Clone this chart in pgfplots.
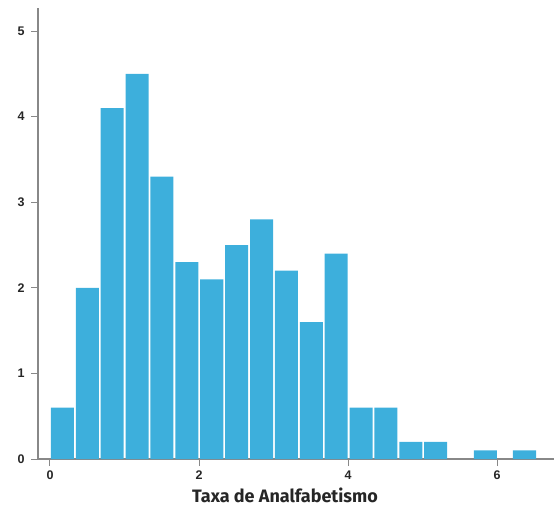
\documentclass[border=0pt]{standalone}
\usepackage{pgfplots}
\pgfplotsset{compat=1.18}
\usepackage{fontspec}
\setmainfont{Liberation Sans}
\newfontfamily\labelfont{Fira Sans}
\definecolor{barblue}{HTML}{3DAFDC}
\definecolor{spine}{HTML}{888888}
\begin{document}
\begin{tikzpicture}
\begin{axis}[
  scale only axis,
  width=516pt, height=451pt,
  xmin=-0.161, xmax=6.765,
  ymin=0, ymax=5.27,
  axis x line*=bottom, axis y line*=left,
  axis line style={spine, line width=1.3pt},
  xtick={0,2,4,6}, ytick={0,1,2,3,4,5},
  tick align=outside,
  major tick length=7pt,
  tick style={spine, line width=1pt},
  ticklabel style={font=\fontsize{12.5}{14}\selectfont\bfseries, text=black!85},
  /pgf/number format/assume math mode=true,
  xticklabel style={yshift=-1pt},
  yticklabel style={xshift=-3pt},
  xlabel={\labelfont\bfseries\fontsize{18}{20}\selectfont Taxa de Analfabetismo},
  xlabel style={yshift=-1.5pt, xshift=-11pt, text=black!85},
]
\addplot[ybar, bar width=0.309, bar shift=0pt, fill=barblue, draw=none] coordinates {
(0.1670,0.6) (0.5010,2.0) (0.8350,4.1) (1.1690,4.5) (1.5030,3.3)
(1.8370,2.3) (2.1710,2.1) (2.5050,2.5) (2.8390,2.8) (3.1730,2.2)
(3.5070,1.6) (3.8410,2.4) (4.1750,0.6) (4.5090,0.6) (4.8430,0.2)
(5.1770,0.2) (5.8450,0.1) (6.3690,0.1)
};
\end{axis}
\pgfresetboundingbox
\path (current axis.south west) ++(-38pt,-49pt) coordinate (bl);
\path (current axis.north east) ++(0pt,8pt) coordinate (tr);
\path (bl) rectangle (tr);
\end{tikzpicture}
\end{document}
